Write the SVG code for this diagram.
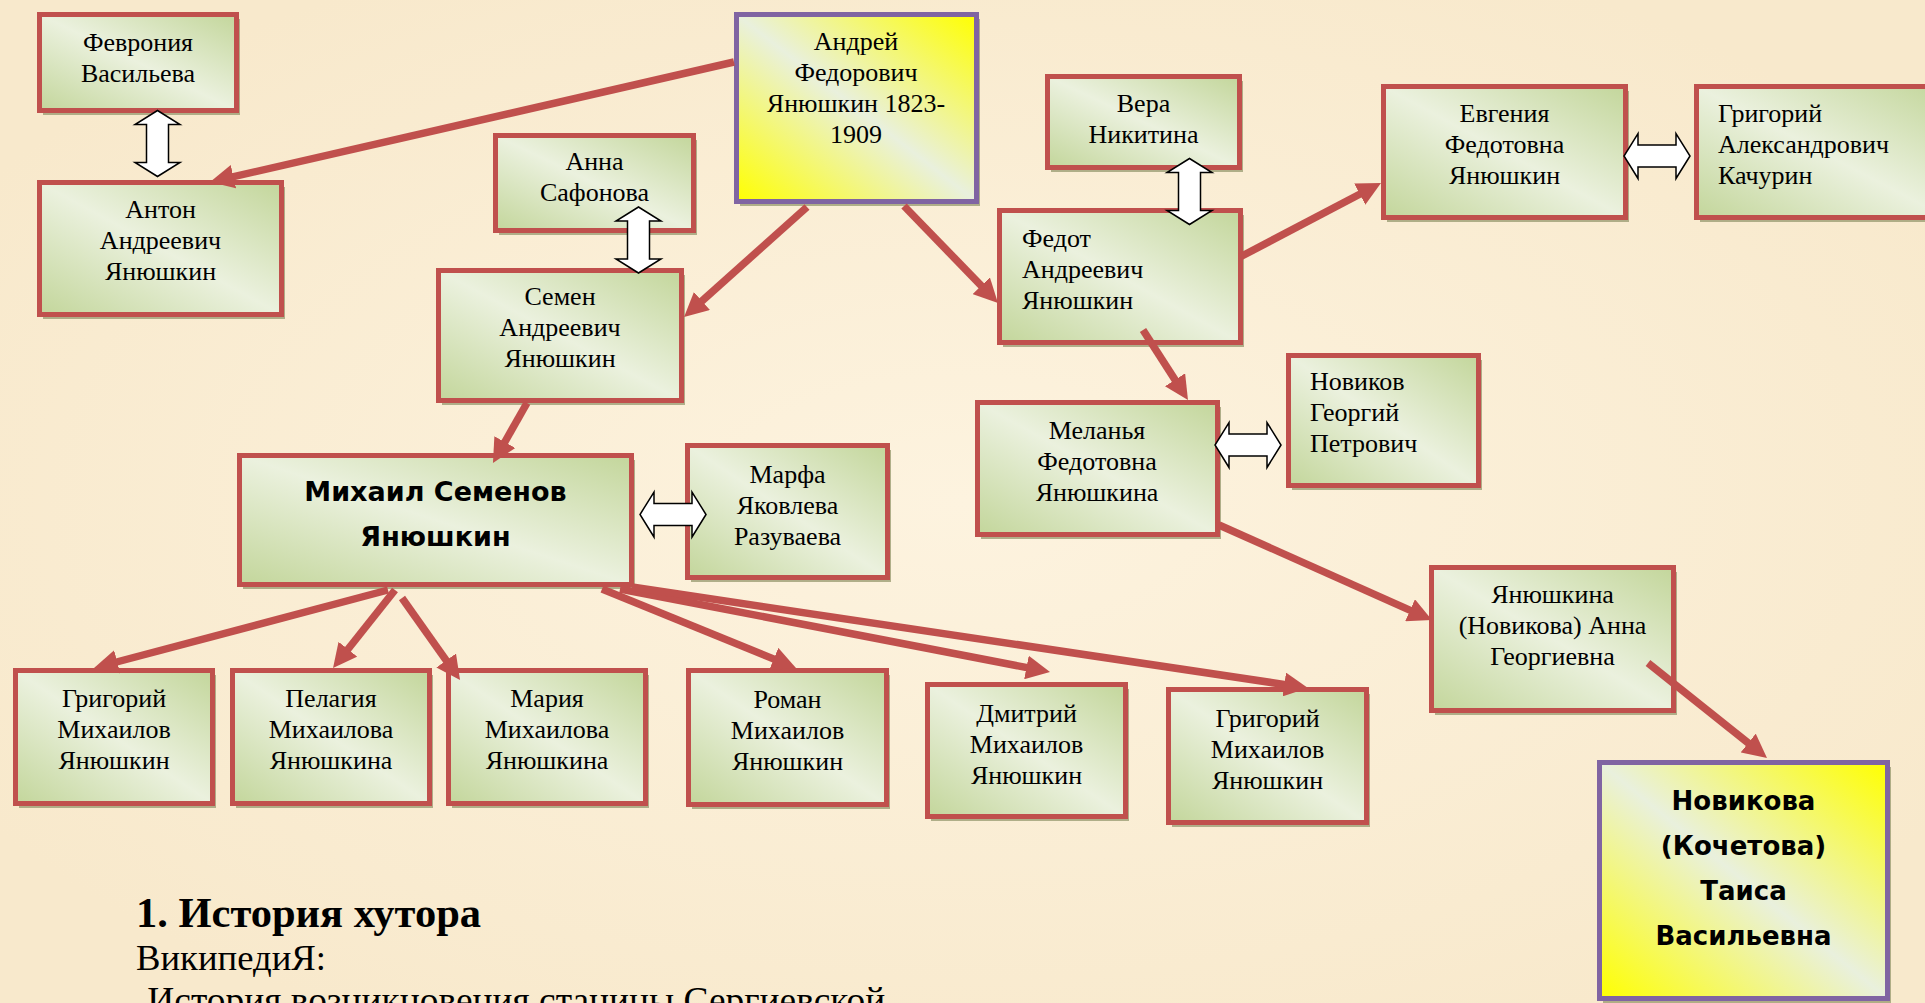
<svg xmlns="http://www.w3.org/2000/svg" width="1925" height="1003" viewBox="0 0 1925 1003">
<defs>
<linearGradient id="gg" x1="0" y1="1" x2="1" y2="0">
<stop offset="0" stop-color="#c3d69b"/>
<stop offset="0.5" stop-color="#ebf1de"/>
<stop offset="1" stop-color="#c3d69b"/>
</linearGradient>
<linearGradient id="yg" x1="0" y1="1" x2="1" y2="0">
<stop offset="0" stop-color="#ffff00"/>
<stop offset="0.5" stop-color="#e9f0dd"/>
<stop offset="1" stop-color="#ffff00"/>
</linearGradient>
<radialGradient id="bgspot" cx="0.5" cy="0.5" r="0.6">
<stop offset="0" stop-color="#fdf3df"/>
<stop offset="1" stop-color="#f8e9cc"/>
</radialGradient>
<marker id="ah" viewBox="0 0 10 10" refX="6" refY="5" markerWidth="3.2" markerHeight="3.2" orient="auto" markerUnits="strokeWidth">
<path d="M0,0 L10,5 L0,10 Z" fill="#c0504d"/>
</marker>
<path id="dbl" d="M0,-33 L22.5,-19 L11,-19 L11,19 L22.5,19 L0,33 L-22.5,19 L-11,19 L-11,-19 L-22.5,-19 Z"/>
</defs>
<style>
.sh{fill:#9c9e74;opacity:0.8}
.bx{fill:url(#gg);stroke:#c0504d;stroke-width:5}
.yb{fill:url(#yg);stroke:#8064a2;stroke-width:5}
.t{font-family:"Liberation Serif","Times New Roman",serif;font-size:26px;fill:#000;text-anchor:middle}
.l{text-anchor:start}
.cm{font-family:"Comic Sans MS","DejaVu Sans",sans-serif;font-weight:bold;font-size:27px;fill:#000;text-anchor:middle}
.cn{fill:none;stroke:#c0504d;stroke-width:7.5;marker-end:url(#ah)}
.db{fill:#fff;stroke:#000;stroke-width:1.5}
.h{font-family:"Liberation Serif","Times New Roman",serif;fill:#000}
</style>
<rect x="0" y="0" width="1925" height="1003" fill="url(#bgspot)"/>

<g id="n-fevronia">
<rect class="sh" x="43" y="19" width="197" height="96"/>
<rect class="bx" x="39.5" y="14.5" width="197" height="96"/>
<text class="t"><tspan x="138" y="51">Феврония</tspan><tspan x="138" y="82">Васильева</tspan></text>
</g>
<g id="n-anton">
<rect class="sh" x="43" y="187" width="242" height="132"/>
<rect class="bx" x="39.5" y="182.5" width="242" height="132"/>
<text class="t"><tspan x="160.5" y="218">Антон</tspan><tspan x="160.5" y="249">Андреевич</tspan><tspan x="160.5" y="280">Янюшкин</tspan></text>
</g>
<g id="n-andrey">
<rect class="sh" x="740" y="19" width="240" height="187"/>
<rect class="yb" x="736.5" y="14.5" width="240" height="187"/>
<text class="t"><tspan x="856" y="50">Андрей</tspan><tspan x="856" y="81">Федорович</tspan><tspan x="856" y="112">Янюшкин 1823-</tspan><tspan x="856" y="143">1909</tspan></text>
</g>
<g id="n-anna">
<rect class="sh" x="499" y="140" width="198" height="95"/>
<rect class="bx" x="495.5" y="135.5" width="198" height="95"/>
<text class="t"><tspan x="594.5" y="170">Анна</tspan><tspan x="594.5" y="201">Сафонова</tspan></text>
</g>
<g id="n-semen">
<rect class="sh" x="442" y="275" width="243" height="130"/>
<rect class="bx" x="438.5" y="270.5" width="243" height="130"/>
<text class="t"><tspan x="560" y="305">Семен</tspan><tspan x="560" y="336">Андреевич</tspan><tspan x="560" y="367">Янюшкин</tspan></text>
</g>
<g id="n-vera">
<rect class="sh" x="1051" y="81" width="192" height="91"/>
<rect class="bx" x="1047.5" y="76.5" width="192" height="91"/>
<text class="t"><tspan x="1143.5" y="112">Вера</tspan><tspan x="1143.5" y="143">Никитина</tspan></text>
</g>
<g id="n-fedot">
<rect class="sh" x="1003" y="215" width="241" height="132"/>
<rect class="bx" x="999.5" y="210.5" width="241" height="132"/>
<text class="t l"><tspan x="1022" y="247">Федот</tspan><tspan x="1022" y="278">Андреевич</tspan><tspan x="1022" y="309">Янюшкин</tspan></text>
</g>
<g id="n-evgenia">
<rect class="sh" x="1387" y="91" width="242" height="131"/>
<rect class="bx" x="1383.5" y="86.5" width="242" height="131"/>
<text class="t"><tspan x="1504.5" y="122">Евгения</tspan><tspan x="1504.5" y="153">Федотовна</tspan><tspan x="1504.5" y="184">Янюшкин</tspan></text>
</g>
<g id="n-grigoriy-a">
<rect class="sh" x="1700" y="91" width="250" height="131"/>
<rect class="bx" x="1696.5" y="86.5" width="250" height="131"/>
<text class="t l"><tspan x="1718" y="122">Григорий</tspan><tspan x="1718" y="153">Александрович</tspan><tspan x="1718" y="184">Качурин</tspan></text>
</g>
<g id="n-melanya">
<rect class="sh" x="981" y="407" width="240" height="132"/>
<rect class="bx" x="977.5" y="402.5" width="240" height="132"/>
<text class="t"><tspan x="1097" y="439">Меланья</tspan><tspan x="1097" y="470">Федотовна</tspan><tspan x="1097" y="501">Янюшкина</tspan></text>
</g>
<g id="n-novikov">
<rect class="sh" x="1292" y="360" width="190" height="130"/>
<rect class="bx" x="1288.5" y="355.5" width="190" height="130"/>
<text class="t l"><tspan x="1310" y="390">Новиков</tspan><tspan x="1310" y="421">Георгий</tspan><tspan x="1310" y="452">Петрович</tspan></text>
</g>
<g id="n-mikhail">
<rect class="sh" x="243" y="460" width="392" height="129"/>
<rect class="bx" x="239.5" y="455.5" width="392" height="129"/>
<text class="cm"><tspan x="435.5" y="501">Михаил Семенов</tspan><tspan x="435.5" y="546">Янюшкин</tspan></text>
</g>
<g id="n-marfa">
<rect class="sh" x="691" y="450" width="200" height="132"/>
<rect class="bx" x="687.5" y="445.5" width="200" height="132"/>
<text class="t"><tspan x="787.5" y="483">Марфа</tspan><tspan x="787.5" y="514">Яковлева</tspan><tspan x="787.5" y="545">Разуваева</tspan></text>
</g>
<g id="n-anna-g">
<rect class="sh" x="1435" y="572" width="242" height="143"/>
<rect class="bx" x="1431.5" y="567.5" width="242" height="143"/>
<text class="t"><tspan x="1552.5" y="603">Янюшкина</tspan><tspan x="1552.5" y="634">(Новикова) Анна</tspan><tspan x="1552.5" y="665">Георгиевна</tspan></text>
</g>
<g id="n-taisa">
<rect class="sh" x="1603" y="767" width="288" height="236"/>
<rect class="yb" x="1599.5" y="762.5" width="288" height="236"/>
<text class="cm" style="font-size:26px"><tspan x="1743.5" y="810">Новикова</tspan><tspan x="1743.5" y="855">(Кочетова)</tspan><tspan x="1743.5" y="900">Таиса</tspan><tspan x="1743.5" y="945">Васильевна</tspan></text>
</g>
<g id="n-grigoriy-1">
<rect class="sh" x="19" y="675" width="197" height="133"/>
<rect class="bx" x="15.5" y="670.5" width="197" height="133"/>
<text class="t"><tspan x="114" y="707">Григорий</tspan><tspan x="114" y="738">Михаилов</tspan><tspan x="114" y="769">Янюшкин</tspan></text>
</g>
<g id="n-pelagia">
<rect class="sh" x="236" y="675" width="197" height="133"/>
<rect class="bx" x="232.5" y="670.5" width="197" height="133"/>
<text class="t"><tspan x="331" y="707">Пелагия</tspan><tspan x="331" y="738">Михаилова</tspan><tspan x="331" y="769">Янюшкина</tspan></text>
</g>
<g id="n-maria">
<rect class="sh" x="452" y="675" width="197" height="133"/>
<rect class="bx" x="448.5" y="670.5" width="197" height="133"/>
<text class="t"><tspan x="547" y="707">Мария</tspan><tspan x="547" y="738">Михаилова</tspan><tspan x="547" y="769">Янюшкина</tspan></text>
</g>
<g id="n-roman">
<rect class="sh" x="692" y="675" width="198" height="134"/>
<rect class="bx" x="688.5" y="670.5" width="198" height="134"/>
<text class="t"><tspan x="787.5" y="708">Роман</tspan><tspan x="787.5" y="739">Михаилов</tspan><tspan x="787.5" y="770">Янюшкин</tspan></text>
</g>
<g id="n-dmitriy">
<rect class="sh" x="931" y="689" width="198" height="132"/>
<rect class="bx" x="927.5" y="684.5" width="198" height="132"/>
<text class="t"><tspan x="1026.5" y="722">Дмитрий</tspan><tspan x="1026.5" y="753">Михаилов</tspan><tspan x="1026.5" y="784">Янюшкин</tspan></text>
</g>
<g id="n-grigoriy-2">
<rect class="sh" x="1172" y="694" width="198" height="133"/>
<rect class="bx" x="1168.5" y="689.5" width="198" height="133"/>
<text class="t"><tspan x="1267.5" y="727">Григорий</tspan><tspan x="1267.5" y="758">Михаилов</tspan><tspan x="1267.5" y="789">Янюшкин</tspan></text>
</g>

<g id="connectors">
<path class="cn" d="M734,62 L219.4,179.9"/>
<path class="cn" d="M807,207 L691.2,310.6"/>
<path class="cn" d="M904,206 L991.3,296.1"/>
<path class="cn" d="M1240,257 L1372.5,187.5"/>
<path class="cn" d="M1143,330 L1182.8,391.9"/>
<path class="cn" d="M527,403 L497.7,454.6"/>
<path class="cn" d="M1219,525 L1423.2,616.1"/>
<path class="cn" d="M1648,663 L1759.5,752"/>
<path class="cn" d="M388,590 L103.3,665.5"/>
<path class="cn" d="M395,590 L339,660.5"/>
<path class="cn" d="M402,598 L454.5,672.2"/>
<path class="cn" d="M602,589 L787.1,664.4"/>
<path class="cn" d="M620,589 L1040.6,670.2"/>
<path class="cn" d="M632,587 L1298.5,686.6"/>
<use href="#dbl" class="db" transform="translate(157.5,143.5)"/>
<use href="#dbl" class="db" transform="translate(638.5,240)"/>
<use href="#dbl" class="db" transform="translate(1189.5,191.5)"/>
<use href="#dbl" class="db" transform="translate(1657,156) rotate(90)"/>
<use href="#dbl" class="db" transform="translate(1248,445) rotate(90)"/>
<use href="#dbl" class="db" transform="translate(673,514.5) rotate(90)"/>
</g>

<g id="caption">
<text class="h" x="136" y="927" style="font-size:42.5px;font-weight:bold">1. История хутора</text>
<text class="h" x="136" y="970" style="font-size:36.7px">ВикипедиЯ:</text>
<text class="h" x="138" y="1013" style="font-size:37.4px" xml:space="preserve"> История возникновения станицы Сергиевской</text>
</g>
</svg>
